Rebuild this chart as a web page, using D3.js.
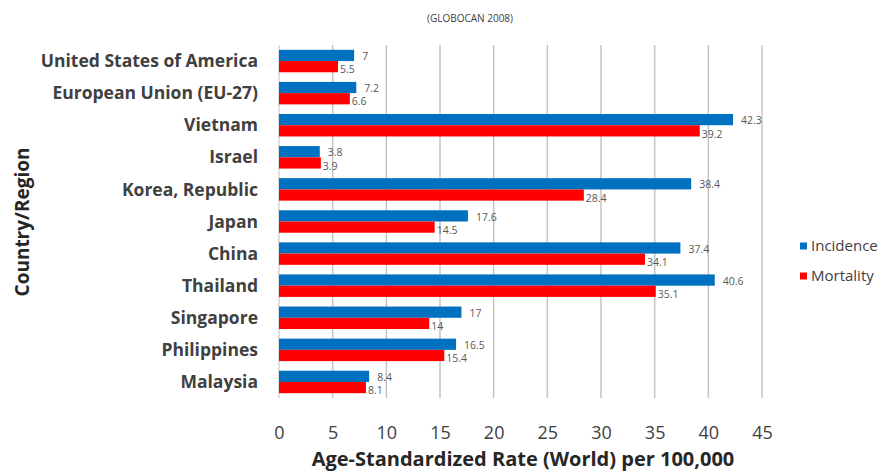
<!DOCTYPE html>
<html><head><meta charset="utf-8">
<script src="https://cdn.jsdelivr.net/npm/d3@7"></script>
<style>body{margin:0;background:#fff}svg{display:block}</style>
</head><body>
<svg id="c" width="885" height="473"></svg>
<script>
const categories = ["United States of America","European Union (EU-27)","Vietnam","Israel","Korea, Republic","Japan","China","Thailand","Singapore","Philippines","Malaysia"];
const incidence = [7,7.2,42.3,3.8,38.4,17.6,37.4,40.6,17,16.5,8.4];
const mortality = [5.5,6.6,39.2,3.9,28.4,14.5,34.1,35.1,14,15.4,8.1];
const seriesNames = ["Incidence","Mortality"];
const xTicks = [0,5,10,15,20,25,30,35,40,45];

const svg = d3.select("#c");
const font = "'Open Sans', sans-serif";
const colors = ["#0070C0","#FF0000"];
const m = {left:279, right:762, top:45, bottom:398};

const x = d3.scaleLinear().domain([0,45]).range([m.left,m.right]);
const y = d3.scaleBand().domain(categories).range([m.top,m.bottom]).paddingInner(0.3).paddingOuter(0.15);
const sub = d3.scaleBand().domain(seriesNames).range([0,y.bandwidth()]);

svg.append("text").attr("x",470).attr("y",22).attr("text-anchor","middle")
  .attr("font-family",font).attr("font-size",10).attr("fill","#404040").text("(GLOBOCAN 2008)");

// gridlines
svg.append("g").selectAll("line").data(xTicks.filter(d=>d>0)).join("line")
  .attr("x1",d=>x(d)).attr("x2",d=>x(d)).attr("y1",m.top).attr("y2",m.bottom)
  .attr("stroke","#c4c4c4").attr("stroke-width",1.5);
svg.append("line").attr("x1",m.left).attr("x2",m.left).attr("y1",m.top).attr("y2",m.bottom)
  .attr("stroke","#bfbfbf").attr("stroke-width",1);

const data = categories.map((c,i)=>({c, vals:[incidence[i],mortality[i]]}));
const g = svg.append("g").selectAll("g").data(data).join("g")
  .attr("transform",d=>`translate(0,${y(d.c)})`);
g.selectAll("rect").data(d=>d.vals.map((v,k)=>({v,k}))).join("rect")
  .attr("x",x(0)).attr("y",d=>sub(seriesNames[d.k])).attr("height",sub.bandwidth())
  .attr("width",d=>x(d.v)-x(0)).attr("fill",d=>colors[d.k]);
g.selectAll("text").data(d=>d.vals.map((v,k)=>({v,k}))).join("text")
  .attr("x",d=>x(d.v)+ (d.k===0?8:2)).attr("y",d=>sub(seriesNames[d.k])+sub.bandwidth()/2 + (d.k===0?1:3))
  .attr("dy","0.35em").attr("font-family",font).attr("font-size",10.5).attr("fill","#595959")
  .text(d=>d.v);

// y axis labels
svg.append("g").selectAll("text").data(categories).join("text")
  .attr("x",258).attr("y",d=>y(d)+y.bandwidth()/2).attr("dy","0.35em").attr("text-anchor","end")
  .attr("font-family",font).attr("font-weight","bold").attr("font-size",17.5).attr("fill","#404040")
  .text(d=>d);

// x axis
const xa = svg.append("g").attr("transform",`translate(0,${m.bottom})`)
  .call(d3.axisBottom(x).tickValues(xTicks).tickSize(0).tickPadding(28));
xa.select(".domain").remove();
xa.selectAll("text").attr("font-family",font).attr("font-size",18).attr("fill","#404040");

svg.append("text").attr("x",523).attr("y",466).attr("text-anchor","middle")
  .attr("font-family",font).attr("font-weight","bold").attr("font-size",20).attr("fill","#262626")
  .text("Age-Standardized Rate (World) per 100,000");
svg.append("text").attr("transform","translate(29,222) rotate(-90)").attr("text-anchor","middle")
  .attr("font-family",font).attr("font-weight","bold").attr("font-size",19).attr("fill","#262626")
  .text("Country/Region");

// legend
const lg = svg.append("g").selectAll("g").data(seriesNames).join("g")
  .attr("transform",(d,i)=>`translate(800,${246+i*30})`);
lg.append("rect").attr("x",0).attr("y",-3.5).attr("width",7).attr("height",7).attr("fill",(d,i)=>colors[i]);
lg.append("text").attr("x",11).attr("y",0).attr("dy","0.35em").attr("font-family",font)
  .attr("font-size",15).attr("fill","#404040").text(d=>d);
</script>
</body></html>
